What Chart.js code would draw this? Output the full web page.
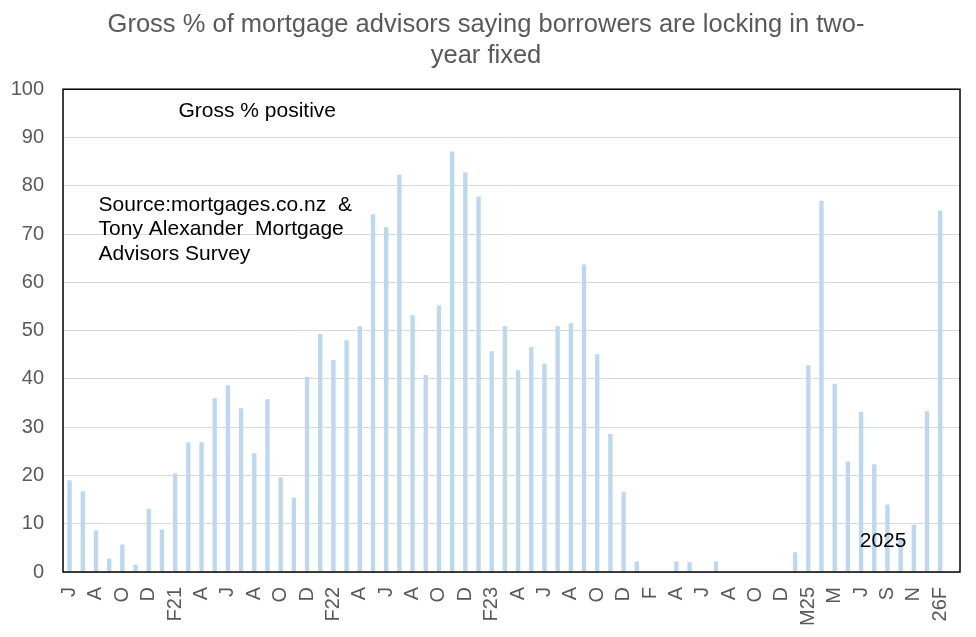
<!DOCTYPE html>
<html>
<head>
<meta charset="utf-8">
<script src="https://cdn.jsdelivr.net/npm/chart.js@4.4.1/dist/chart.umd.min.js"></script>
<style>
    html, body { margin: 0; padding: 0; background: #fff; }
    .container_chart { width: 976px; height: 637px; }
</style>
</head>
<body>
<div class="container_chart"><canvas id="myChart" width="976" height="637"></canvas></div>
<script>
// tick labels, one per month (blank months have no label)
const tickLabels = [
    'J', '', 'A', '', 'O', '', 'D', '', 'F21', '', 'A', '', 'J', '', 'A', '', 'O', '', 'D', '',
    'F22', '', 'A', '', 'J', '', 'A', '', 'O', '', 'D', '', 'F23', '', 'A', '', 'J', '', 'A', '',
    'O', '', 'D', '', 'F', '', 'A', '', 'J', '', 'A', '', 'O', '', 'D', '', 'M25', '', 'M', '',
    'J', '', 'S', '', 'N', '', '26F', ''
];

// Gross % positive
const grossPositive = [
    19.0, 16.7, 8.6, 2.8, 5.7, 1.5, 13.1, 8.8, 20.4, 26.9,
    26.9, 36.0, 38.7, 33.9, 24.6, 35.8, 19.6, 15.4, 40.4, 49.3,
    43.9, 48.0, 50.9, 74.1, 71.4, 82.3, 53.2, 40.8, 55.2, 87.1,
    82.8, 77.8, 45.7, 50.9, 41.8, 46.6, 43.2, 50.9, 51.5, 63.7,
    45.1, 28.6, 16.6, 2.2, 0, 0, 2.2, 2.0, 0, 2.2,
    0, 0, 0, 0, 0, 4.1, 42.8, 76.9, 39.0, 22.9,
    33.2, 22.3, 14.0, 7.0, 9.8, 33.3, 74.8, null
];

const yTicks = [0, 10, 20, 30, 40, 50, 60, 70, 80, 90, 100];

const titleLines = ['Gross % of mortgage advisors saying borrowers are locking in two-', 'year fixed'];

// text boxes inside the plot, placed in axis units (category index, %)
const notes = [
    { text: 'Gross % positive', x: 8.25, y: 95.4 },
    { text: 'Source:mortgages.co.nz  &', x: 2.2, y: 76.0 },
    { text: 'Tony Alexander  Mortgage', x: 2.2, y: 70.9 },
    { text: 'Advisors Survey', x: 2.2, y: 65.8 },
    { text: '2025', x: 59.9, y: 6.3 }
];

const FONT = "'Liberation Sans', Arial, sans-serif";

const plotBox = {
    id: 'plotBox',
    afterDatasetsDraw(chart) {
        const { ctx, chartArea: a, scales } = chart;
        ctx.save();
        ctx.strokeStyle = '#000';
        ctx.lineWidth = 1.5;
        ctx.strokeRect(a.left, a.top, a.right - a.left, a.bottom - a.top);

        ctx.fillStyle = '#000';
        ctx.font = '21px ' + FONT;
        ctx.textAlign = 'left';
        ctx.textBaseline = 'middle';
        notes.forEach(n => {
            ctx.fillText(n.text, scales.x.getPixelForValue(n.x), scales.y.getPixelForValue(n.y));
        });
        ctx.restore();
    }
};

const ctx = document.getElementById('myChart');

new Chart(ctx, {
    type: 'bar',
    data: {
        labels: tickLabels,
        datasets: [{
            label: 'Gross % positive',
            data: grossPositive,
            backgroundColor: '#bdd7ee',
            categoryPercentage: 1,
            barPercentage: 0.33
        }]
    },
    options: {
        responsive: false,
        animation: false,
        devicePixelRatio: 1,
        layout: {
            padding: { left: 12, right: 16, top: 0, bottom: 12 }
        },
        plugins: {
            legend: { display: false },
            tooltip: { enabled: false },
            title: {
                display: true,
                text: titleLines,
                color: '#595959',
                font: { family: FONT, size: 25.5, weight: 'normal', lineHeight: 1.2 },
                padding: { top: 10, bottom: 18 }
            }
        },
        scales: {
            x: {
                afterFit(axis) {
                    axis.height = 53;
                    axis.paddingLeft = 0;
                    axis.paddingRight = 0;
                },
                grid: { display: false, drawTicks: false },
                border: { display: false },
                ticks: {
                    autoSkip: false,
                    minRotation: 90,
                    maxRotation: 90,
                    padding: 15,
                    color: '#595959',
                    font: { family: FONT, size: 20 }
                }
            },
            y: {
                min: 0,
                max: 100,
                afterBuildTicks(axis) {
                    axis.ticks = yTicks.map(v => ({ value: v }));
                },
                afterFit(axis) {
                    axis.width = 51;
                    axis.paddingTop = 0;
                    axis.paddingBottom = 0;
                },
                grid: { color: '#d9d9d9', lineWidth: 1, drawTicks: false },
                border: { display: false },
                ticks: {
                    padding: 19,
                    color: '#595959',
                    font: { family: FONT, size: 20 }
                }
            }
        }
    },
    plugins: [plotBox]
});
</script>
</body>
</html>
